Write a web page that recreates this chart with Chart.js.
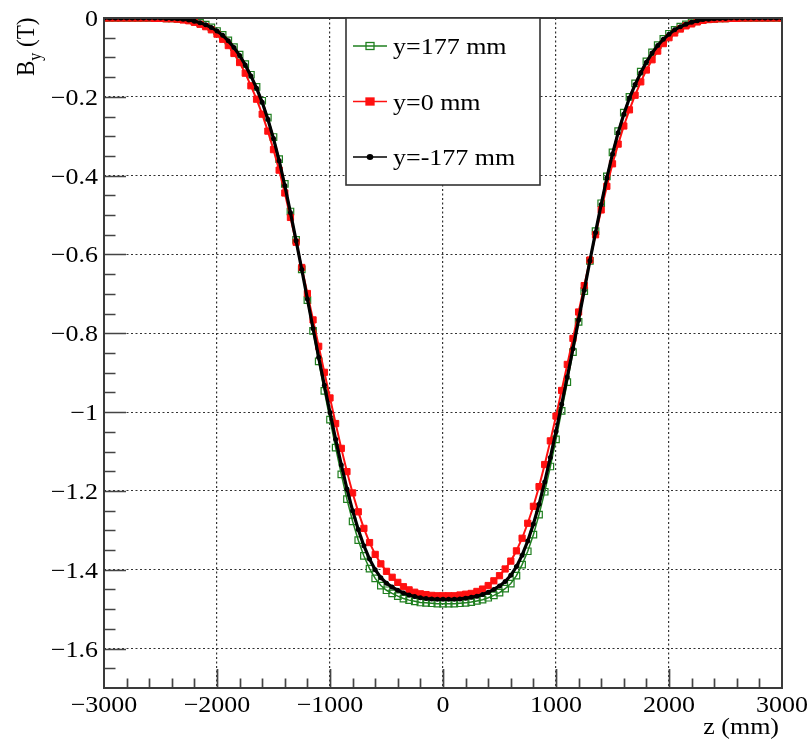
<!DOCTYPE html>
<html>
<head>
<meta charset="utf-8">
<title>B_y vs z</title>
<script src="https://cdn.jsdelivr.net/npm/chart.js"></script>
<style>
  html,body{margin:0;padding:0;background:#fff;}
  #wrap{width:812px;height:741px;}
</style>
</head>
<body>
<div id="wrap"><canvas id="chart" width="812" height="741"></canvas></div>
<script>

// =====================
// DATA
// =====================

const zValues = [
  -3000,-2950,-2900,-2850,-2800,-2750,-2700,-2650,-2600,-2550,
  -2500,-2450,-2400,-2350,-2300,-2250,-2200,-2150,-2100,-2050,
  -2000,-1950,-1900,-1850,-1800,-1750,-1700,-1650,-1600,-1550,
  -1500,-1450,-1400,-1350,-1300,-1250,-1200,-1150,-1100,-1050,
  -1000,-950,-900,-850,-800,-750,-700,-650,-600,-550,
  -500,-450,-400,-350,-300,-250,-200,-150,-100,-50,
  0,
  50,100,150,200,250,300,350,400,450,500,
  550,600,650,700,750,800,850,900,950,1000,
  1050,1100,1150,1200,1250,1300,1350,1400,1450,1500,
  1550,1600,1650,1700,1750,1800,1850,1900,1950,2000,
  2050,2100,2150,2200,2250,2300,2350,2400,2450,2500,
  2550,2600,2650,2700,2750,2800,2850,2900,2950,3000
];

// y = 177 mm
const byPlus177 = [
  0,0,0,0,0,0,0,0,0,0,
  0,-0.001,-0.001,-0.002,-0.003,-0.005,-0.008,-0.012,-0.017,-0.024,
  -0.033,-0.043,-0.057,-0.074,-0.093,-0.117,-0.144,-0.175,-0.210,-0.253,
  -0.302,-0.358,-0.421,-0.491,-0.563,-0.638,-0.716,-0.794,-0.871,-0.946,
  -1.019,-1.090,-1.158,-1.221,-1.277,-1.325,-1.365,-1.397,-1.422,-1.440,
  -1.452,-1.460,-1.467,-1.473,-1.477,-1.480,-1.483,-1.484,-1.485,-1.486,
  -1.486,
  -1.486,-1.486,-1.485,-1.484,-1.482,-1.479,-1.476,-1.471,-1.465,-1.458,
  -1.448,-1.435,-1.415,-1.387,-1.353,-1.311,-1.260,-1.202,-1.138,-1.069,
  -0.997,-0.924,-0.848,-0.771,-0.693,-0.616,-0.541,-0.470,-0.402,-0.341,
  -0.287,-0.240,-0.200,-0.166,-0.136,-0.110,-0.087,-0.069,-0.053,-0.040,
  -0.030,-0.022,-0.016,-0.011,-0.007,-0.004,-0.003,-0.002,-0.001,-0.001,
  0,0,0,0,0,0,0,0,0,0
];

// y = 0 mm
const byZero = [
  0,0,0,0,0,0,0,0,0,-0.001,
  -0.001,-0.002,-0.002,-0.003,-0.005,-0.007,-0.011,-0.016,-0.022,-0.030,
  -0.041,-0.054,-0.070,-0.090,-0.113,-0.140,-0.172,-0.206,-0.244,-0.287,
  -0.334,-0.386,-0.444,-0.506,-0.569,-0.633,-0.699,-0.766,-0.833,-0.899,
  -0.964,-1.029,-1.092,-1.151,-1.205,-1.253,-1.295,-1.331,-1.361,-1.385,
  -1.404,-1.419,-1.432,-1.443,-1.451,-1.457,-1.461,-1.463,-1.465,-1.466,
  -1.466,
  -1.466,-1.466,-1.464,-1.462,-1.460,-1.455,-1.449,-1.440,-1.428,-1.415,
  -1.398,-1.378,-1.352,-1.320,-1.282,-1.239,-1.189,-1.133,-1.073,-1.010,
  -0.945,-0.879,-0.813,-0.746,-0.679,-0.614,-0.550,-0.487,-0.427,-0.370,
  -0.320,-0.274,-0.233,-0.196,-0.162,-0.132,-0.106,-0.084,-0.065,-0.050,
  -0.038,-0.028,-0.020,-0.015,-0.010,-0.006,-0.004,-0.003,-0.002,-0.002,
  -0.001,-0.001,0,0,0,0,0,0,0,0
];

// y = -177 mm
const byMinus177 = [
  0,0,0,0,0,0,0,0,0,0,
  0,-0.001,-0.001,-0.002,-0.003,-0.005,-0.008,-0.012,-0.017,-0.024,
  -0.033,-0.044,-0.058,-0.075,-0.095,-0.119,-0.147,-0.178,-0.214,-0.257,
  -0.306,-0.362,-0.425,-0.494,-0.565,-0.638,-0.713,-0.788,-0.861,-0.932,
  -1.001,-1.069,-1.134,-1.195,-1.250,-1.298,-1.339,-1.373,-1.400,-1.420,
  -1.434,-1.444,-1.452,-1.459,-1.464,-1.468,-1.471,-1.473,-1.474,-1.475,
  -1.475,
  -1.475,-1.475,-1.474,-1.472,-1.470,-1.467,-1.463,-1.457,-1.450,-1.441,
  -1.430,-1.414,-1.392,-1.363,-1.327,-1.284,-1.234,-1.177,-1.115,-1.049,
  -0.980,-0.911,-0.839,-0.766,-0.691,-0.616,-0.544,-0.473,-0.406,-0.345,
  -0.291,-0.244,-0.203,-0.169,-0.139,-0.112,-0.089,-0.070,-0.054,-0.041,
  -0.030,-0.022,-0.016,-0.011,-0.007,-0.004,-0.003,-0.002,-0.001,-0.001,
  0,0,0,0,0,0,0,0,0,0
];

const seriesLabels = ["y=177 mm", "y=0 mm", "y=-177 mm"];

const xMajorTicks = [-3000, -2000, -1000, 0, 1000, 2000, 3000];
const yMajorTicks = [0, -0.2, -0.4, -0.6, -0.8, -1, -1.2, -1.4, -1.6];

const xTitle = "z (mm)";


// =====================
// HELPERS
// =====================

const FONT = '"Liberation Serif", "Times New Roman", serif';
const STRETCH = 1.13;   // the original plot is a bit wide: text looks stretched

function isMajor(v, list){
  return list.some(m => Math.abs(m - v) < 1e-6);
}

function fmt(v){
  let s = String(Math.round(v*1000)/1000);
  return s.replace("-", "\u2212");
}

// text drawn a little wider than the font, like the original
function wideText(ctx, txt, x, y, align, size){
  ctx.save();
  ctx.font = size + "px " + FONT;
  ctx.textBaseline = "alphabetic";
  ctx.textAlign = "left";
  let w = ctx.measureText(txt).width * STRETCH;
  let x0 = x;
  if(align === "right") x0 = x - w;
  if(align === "center") x0 = x - w/2;
  ctx.translate(x0, y);
  ctx.scale(STRETCH, 1);
  ctx.fillText(txt, 0, 0);
  ctx.restore();
}


// =====================
// PLUGIN (ROOT-like frame, inner ticks, labels, legend, titles)
// =====================

const rootStyle = {
  id: "rootStyle",
  afterDatasetsDraw(chart){
    const ctx = chart.ctx;
    const a = chart.chartArea;
    const xs = chart.scales.x;
    const ys = chart.scales.y;

    ctx.save();

    // tick marks, pointing into the plot
    ctx.strokeStyle = "#444";
    ctx.lineWidth = 1.7;
    ctx.beginPath();
    xs.ticks.forEach(t => {
      const px = Math.round(xs.getPixelForValue(t.value)) + 0.5;
      if (px <= a.left + 1 || px >= a.right - 1) return;
      const len = isMajor(t.value, xMajorTicks) ? 19 : 9.5;
      ctx.moveTo(px, a.bottom);
      ctx.lineTo(px, a.bottom - len);
    });
    ys.ticks.forEach(t => {
      const py = Math.round(ys.getPixelForValue(t.value)) + 0.5;
      if (py <= a.top + 1 || py >= a.bottom - 1) return;
      const len = isMajor(t.value, yMajorTicks) ? 22 : 11.5;
      ctx.moveTo(a.left, py);
      ctx.lineTo(a.left + len, py);
    });
    ctx.stroke();

    // frame
    ctx.strokeStyle = "#3a3a3a";
    ctx.lineWidth = 2;
    ctx.strokeRect(a.left, a.top, a.right - a.left, a.bottom - a.top);

    // tick labels
    ctx.fillStyle = "#000";
    xs.ticks.forEach(t => {
      if (!isMajor(t.value, xMajorTicks)) return;
      wideText(ctx, fmt(t.value), xs.getPixelForValue(t.value), a.bottom + 24, "center", 23);
    });
    ys.ticks.forEach(t => {
      if (!isMajor(t.value, yMajorTicks)) return;
      wideText(ctx, fmt(t.value), a.left - 6, ys.getPixelForValue(t.value) + 8, "right", 23);
    });

    // legend box
    const lx = 346, ly = a.top, lw = 194, lh = 167;
    ctx.fillStyle = "#fff";
    ctx.fillRect(lx, ly, lw, lh);
    ctx.strokeStyle = "#333";
    ctx.lineWidth = 1.6;
    ctx.strokeRect(lx, ly, lw, lh);

    const rowY = [46, 101.5, 157];
    chart.data.datasets.forEach((ds, i) => {
      const y = rowY[i];
      ctx.strokeStyle = ds.borderColor;
      ctx.lineWidth = 1.5;
      ctx.beginPath();
      ctx.moveTo(353, y);
      ctx.lineTo(387, y);
      ctx.stroke();

      if (ds.pointStyle === "circle"){
        ctx.fillStyle = ds.pointBackgroundColor;
        ctx.beginPath();
        ctx.ellipse(370, y, 3.3, 3, 0, 0, Math.PI*2);
        ctx.fill();
      } else {
        ctx.fillStyle = ds.pointBackgroundColor;
        ctx.fillRect(366, y - 3.5, 8, 7);
        ctx.strokeStyle = ds.pointBorderColor;
        ctx.lineWidth = 1.3;
        ctx.strokeRect(366, y - 3.5, 8, 7);
      }

      ctx.fillStyle = "#000";
      wideText(ctx, ds.label, 393, y + 8, "left", 23);
    });

    // x title
    ctx.fillStyle = "#000";
    wideText(ctx, xTitle, 779, 734, "right", 23);

    // y title  B_y (T), rotated; the stretch goes across the text
    ctx.translate(34, 76);
    ctx.rotate(-Math.PI/2);
    ctx.scale(1, STRETCH);
    ctx.textAlign = "left";
    ctx.textBaseline = "alphabetic";
    ctx.font = "23px " + FONT;
    ctx.fillText("B", 0, 0);
    let w = ctx.measureText("B").width;
    ctx.font = "16px " + FONT;
    ctx.fillText("y", w, 6);
    w += ctx.measureText("y").width;
    ctx.font = "23px " + FONT;
    ctx.fillText(" (T)", w, 0);

    ctx.restore();
  }
};


// =====================
// CHART
// =====================

const GREEN = "#1f7f1f";
const RED = "#ff1010";
const BLACK = "#000000";

new Chart(document.getElementById("chart"), {
  type: "line",
  data: {
    labels: zValues,
    datasets: [
      {
        label: seriesLabels[0],
        data: byPlus177,
        borderColor: GREEN,
        borderWidth: 1.5,
        pointStyle: "rect",
        pointRadius: 4.6,
        pointBorderWidth: 1.2,
        pointBorderColor: GREEN,
        pointBackgroundColor: "rgba(0,0,0,0)",
        order: 3
      },
      {
        label: seriesLabels[1],
        data: byZero,
        borderColor: RED,
        borderWidth: 2,
        pointStyle: "rect",
        pointRadius: 4.4,
        pointBorderWidth: 1,
        pointBorderColor: RED,
        pointBackgroundColor: RED,
        order: 2
      },
      {
        label: seriesLabels[2],
        data: byMinus177,
        borderColor: BLACK,
        borderWidth: 3.2,
        pointStyle: "circle",
        pointRadius: 2.5,
        pointBorderWidth: 0,
        pointBorderColor: BLACK,
        pointBackgroundColor: BLACK,
        order: 1
      }
    ]
  },
  options: {
    responsive: false,
    animation: false,
    events: [],
    tension: 0,
    layout: { padding: { top: 18, right: 30, bottom: 0, left: 0 } },
    plugins: {
      legend: { display: false },
      tooltip: { enabled: false }
    },
    scales: {
      x: {
        type: "linear",
        min: -3000,
        max: 3000,
        afterFit: s => { s.height = 53; },
        ticks: { stepSize: 200, autoSkip: false, display: false },
        grid: {
          drawTicks: false,
          lineWidth: 1.2,
          color: c => (c.tick && isMajor(c.tick.value, xMajorTicks) && Math.abs(c.tick.value) < 3000) ? "#333" : "rgba(0,0,0,0)"
        },
        border: { display: false, dash: [2, 2.5] }
      },
      y: {
        type: "linear",
        min: -1.7,
        max: 0,
        afterFit: s => { s.width = 104; },
        ticks: { stepSize: 0.05, autoSkip: false, display: false },
        grid: {
          drawTicks: false,
          lineWidth: 1,
          color: c => (c.tick && isMajor(c.tick.value, yMajorTicks) && c.tick.value < -0.01) ? "#333" : "rgba(0,0,0,0)"
        },
        border: { display: false, dash: [2, 2.5] }
      }
    }
  },
  plugins: [rootStyle]
});

</script>
</body>
</html>
